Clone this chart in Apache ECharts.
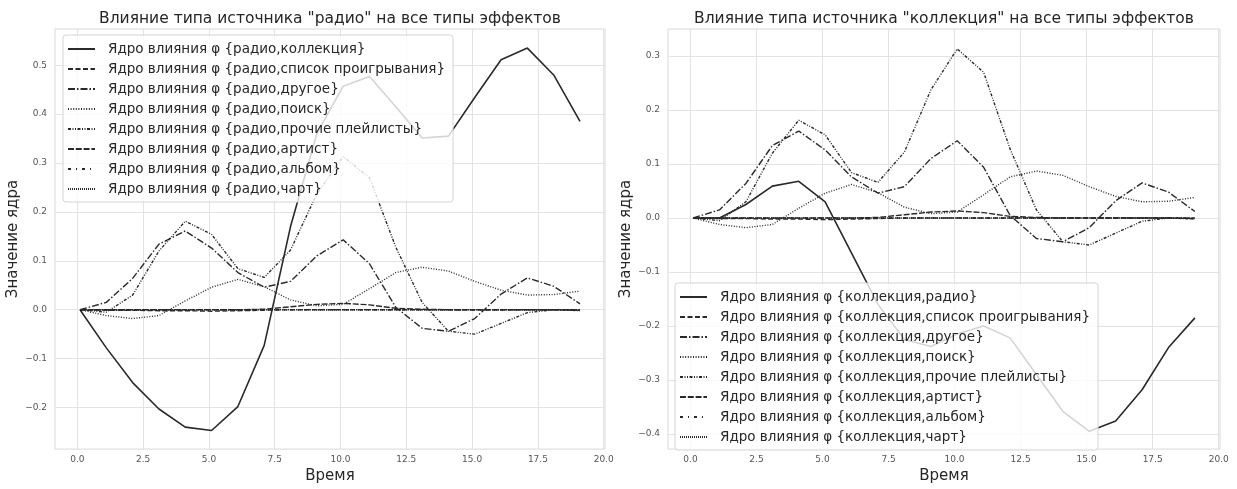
<!DOCTYPE html>
<html>
<head>
<meta charset="utf-8">
<script src="https://cdn.jsdelivr.net/npm/echarts@6/dist/echarts.min.js"></script>
<style>
	html, body { margin: 0; padding: 0; background: #fff; }
	#kernels { width: 1237px; height: 489px; }
</style>
</head>
<body>
<div id="kernels"></div>
<script>
// time grid (same for both panels)
const times = [0.1, 1.1, 2.1, 3.1, 4.1, 5.1, 6.1, 7.1, 8.1, 9.1, 10.1, 11.1, 12.1, 13.1, 14.1, 15.1, 16.1, 17.1, 18.1, 19.1];
const xTicks = [0, 2.5, 5, 7.5, 10, 12.5, 15, 17.5, 20];
const yTicksLeft = [-0.2, -0.1, 0, 0.1, 0.2, 0.3, 0.4, 0.5];
const yTicksRight = [-0.4, -0.3, -0.2, -0.1, 0, 0.1, 0.2, 0.3];

const effects = ['список проигрывания', 'другое', 'поиск', 'прочие плейлисты', 'артист', 'альбом', 'чарт'];

// first (solid) kernel is different in each panel
const radioToCollection = [0, -0.078, -0.149, -0.203, -0.24, -0.247, -0.198, -0.073, 0.17, 0.36, 0.457, 0.477, 0.415, 0.351, 0.355, 0.434, 0.511, 0.535, 0.48, 0.385];
const collectionToRadio = [0, 0, 0.025, 0.059, 0.068, 0.03, -0.065, -0.16, -0.225, -0.238, -0.215, -0.2, -0.222, -0.29, -0.358, -0.395, -0.376, -0.318, -0.24, -0.185];

// the rest of the kernels look identical on both panels
const playlist = [0, -0.001, -0.001, -0.002, -0.002, -0.003, -0.002, -0.001, 0, 0, 0, 0, 0, 0, 0, 0, 0, 0, 0, -0.001];
const other = [0, 0.015, 0.064, 0.134, 0.161, 0.126, 0.076, 0.046, 0.058, 0.11, 0.143, 0.094, 0.005, -0.038, -0.044, -0.018, 0.032, 0.065, 0.048, 0.012];
const search = [0, -0.012, -0.018, -0.012, 0.018, 0.046, 0.062, 0.047, 0.02, 0.008, 0.011, 0.043, 0.076, 0.087, 0.079, 0.058, 0.04, 0.03, 0.031, 0.038];
const otherPlaylists = [0, -0.005, 0.03, 0.12, 0.181, 0.154, 0.084, 0.066, 0.122, 0.237, 0.313, 0.27, 0.128, 0.015, -0.044, -0.05, -0.028, -0.006, 0, -0.002];
const artist = [0, 0, 0, 0, 0, 0, 0, 0.001, 0.006, 0.011, 0.013, 0.01, 0.003, 0.001, 0, 0, 0, 0, 0, 0];
const album = [0, 0, 0, 0, 0, 0, 0, 0, 0, 0, 0, 0, 0, 0, 0, 0, 0, 0, 0, -0.001];
const chart = [0, 0, 0, 0, 0, 0, 0, 0, 0, 0, 0, 0, 0, 0, 0, 0, 0, 0, 0, -0.001];

const dashes = ['solid', [5, 2.5], [7, 2, 1.5, 2], [1, 1.6], [3, 1.5, 1, 1.5, 1, 1.5], [6, 1.8], [3, 5, 1, 5], [1, 1]];

const font = 'DejaVu Sans';
const ink = '#262626';
const lineColor = '#2a2a2a';

function pairs(values) {
	return values.map((v, i) => [times[i], v]);
}

function fmt(v) {
	return v.toFixed(1).replace('-', '\u2212');
}

function buildSeries(source, firstValues, idx) {
	let all = [firstValues, playlist, other, search, otherPlaylists, artist, album, chart];
	let targets = source == 'радио' ? ['коллекция'].concat(effects) : ['радио'].concat(effects);
	let series = [];
	let names = [];
	for (let i = 0; i < all.length; i++) {
		let name = 'Ядро влияния φ {' + source + ',' + targets[i] + '}';
		names.push(name);
		series.push({
			name: name,
			type: 'line',
			xAxisIndex: idx,
			yAxisIndex: idx,
			showSymbol: false,
			symbol: 'none',
			silent: true,
			data: pairs(all[i]),
			lineStyle: {
				color: lineColor,
				width: i == 0 ? 1.6 : 1.4,
				type: dashes[i]
			},
			itemStyle: { color: lineColor }
		});
	}
	return { series, names };
}

const left = buildSeries('радио', radioToCollection, 0);
const right = buildSeries('коллекция', collectionToRadio, 1);

function xAxis(idx) {
	return {
		type: 'value',
		gridIndex: idx,
		min: -0.85,
		max: 20.05,
		name: 'Время',
		nameLocation: 'middle',
		nameGap: 19,
		nameTextStyle: { fontFamily: font, fontSize: 15, color: ink },
		axisLine: { show: false },
		axisTick: { show: false, customValues: xTicks },
		axisLabel: { customValues: xTicks, formatter: fmt, fontFamily: font, fontSize: 9, color: '#555', margin: 6 },
		splitLine: { show: true, lineStyle: { color: '#e3e3e3', width: 1 } }
	};
}

function yAxis(idx, ticks, min, max) {
	return {
		type: 'value',
		gridIndex: idx,
		min: min,
		max: max,
		name: 'Значение ядра',
		nameLocation: 'middle',
		nameGap: 34,
		nameTextStyle: { fontFamily: font, fontSize: 15, color: ink },
		axisLine: { show: false },
		axisTick: { show: false, customValues: ticks },
		axisLabel: { customValues: ticks, formatter: fmt, fontFamily: font, fontSize: 9, color: '#555', margin: 8 },
		splitLine: { show: true, lineStyle: { color: '#e3e3e3', width: 1 } }
	};
}

function legend(names, x, y) {
	return {
		data: names,
		orient: 'vertical',
		left: x,
		top: y,
		itemWidth: 27,
		itemHeight: 14,
		itemGap: 6,
		padding: [7, 8, 6, 4],
		backgroundColor: 'rgba(255,255,255,0.8)',
		borderColor: '#d4d4d4',
		borderWidth: 1,
		borderRadius: 3,
		selectedMode: false,
		// hide the marker, keep only the dashed line sample
		itemStyle: { opacity: 0, borderWidth: 0 },
		textStyle: { fontFamily: font, fontSize: 13.5, color: ink, padding: [0, 0, 0, 8] }
	};
}

var kernelsChart = echarts.init(document.getElementById('kernels'), null, { renderer: 'canvas' });

var option = {
	backgroundColor: '#fff',
	animation: false,
	title: [
		{
			text: 'Влияние типа источника "радио" на все типы эффектов',
			left: 330,
			top: 11,
			textAlign: 'center',
			padding: 0,
			textStyle: { fontFamily: font, fontSize: 15.5, fontWeight: 'normal', color: ink }
		},
		{
			text: 'Влияние типа источника "коллекция" на все типы эффектов',
			left: 944,
			top: 11,
			textAlign: 'center',
			padding: 0,
			textStyle: { fontFamily: font, fontSize: 15.5, fontWeight: 'normal', color: ink }
		}
	],
	grid: [
		{ left: 55, right: 632, top: 29, bottom: 36, show: true, borderColor: '#d8d8d8', borderWidth: 1 },
		{ left: 668, right: 17, top: 29, bottom: 36, show: true, borderColor: '#d8d8d8', borderWidth: 1 }
	],
	legend: [
		legend(left.names, 63, 35),
		legend(right.names, 675, 283)
	],
	xAxis: [xAxis(0), xAxis(1)],
	yAxis: [
		yAxis(0, yTicksLeft, -0.285, 0.574),
		yAxis(1, yTicksRight, -0.428, 0.35)
	],
	series: left.series.concat(right.series)
};

kernelsChart.setOption(option);
</script>
</body>
</html>
